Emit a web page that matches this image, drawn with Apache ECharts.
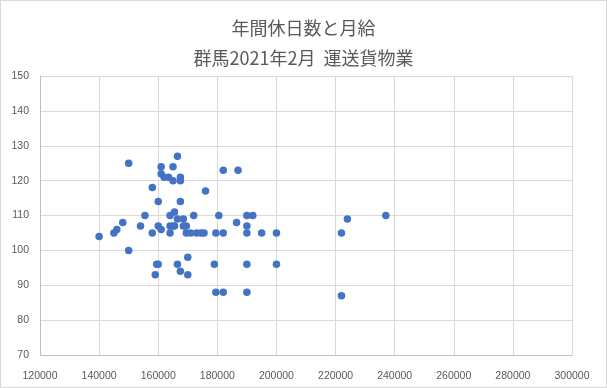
<!DOCTYPE html>
<html>
<head>
<meta charset="utf-8">
<script src="https://cdn.jsdelivr.net/npm/echarts@6/dist/echarts.min.js"></script>
<style>
html,body{margin:0;padding:0;background:#fff;}
#c{width:607px;height:388px;box-sizing:border-box;border:1px solid #d9d9d9;}
</style>
</head>
<body>
<div id="c"></div>
<script>
// 月給 (x)
const salary = [
  140000,145000,146000,148000,150000,150000,154000,155500,158000,158000,
  159000,159500,160000,160000,160000,161000,161000,161000,162000,163500,
  164000,164000,164000,165000,165000,165000,165500,165500,166500,166500,
  166500,167500,167500,167500,167500,168500,168500,169500,169500,170000,
  170000,171000,172000,173000,174500,175500,176000,179000,179500,180500,
  179500,182000,182000,182000,186500,187000,190000,190000,190000,190000,
  190000,192000,195000,200000,200000,222000,222000,224000,237000
];
// 年間休日数 (y)
const holidays = [
  104,105,106,108,125,100,107,110,118,105,
  93,96,96,114,107,124,122,106,121,121,
  110,107,105,124,120,107,111,107,127,109,
  96,121,120,114,94,109,107,107,105,98,
  93,105,110,105,105,105,117,96,105,110,
  88,105,88,123,108,123,110,107,105,96,
  88,110,105,105,96,105,87,109,110
];
const titleLines = ['年間休日数と月給', '群馬2021年2月  運送貨物業'];
const xTicks = {min:120000, max:300000, step:20000};
const yTicks = {min:70, max:150, step:10};

const points = salary.map((s,i)=>[s, holidays[i]]);
const chart = echarts.init(document.getElementById('c'));
const labelColor = '#595959';
chart.setOption({
  animation:false,
  title:{
    text: titleLines.join('\n'),
    left:'center', top:7,
    textStyle:{fontFamily:'"Noto Sans CJK JP"', fontSize:18, fontWeight:'normal', color:labelColor, lineHeight:30}
  },
  grid:{left:39, right:34, top:75, bottom:32},
  xAxis:{
    type:'value', min:xTicks.min, max:xTicks.max, interval:xTicks.step,
    axisLine:{show:true, lineStyle:{color:'#bfbfbf'}},
    axisTick:{show:false},
    splitLine:{show:true, lineStyle:{color:'#d9d9d9'}},
    axisLabel:{color:labelColor, fontSize:10.5, margin:16, fontFamily:'"Liberation Sans", Arial',
      formatter:v=>String(v)}
  },
  yAxis:{
    type:'value', min:yTicks.min, max:yTicks.max, interval:yTicks.step,
    axisLine:{show:true, lineStyle:{color:'#bfbfbf'}},
    axisTick:{show:false},
    splitLine:{show:true, lineStyle:{color:'#d9d9d9'}},
    axisLabel:{color:labelColor, fontSize:10.5, margin:11, fontFamily:'"Liberation Sans", Arial',
      formatter:v=>String(v)}
  },
  series:[{
    type:'scatter', data:points, symbol:'circle', symbolSize:7.5,
    itemStyle:{color:'#4472C4', opacity:1}
  }]
});
</script>
</body>
</html>
